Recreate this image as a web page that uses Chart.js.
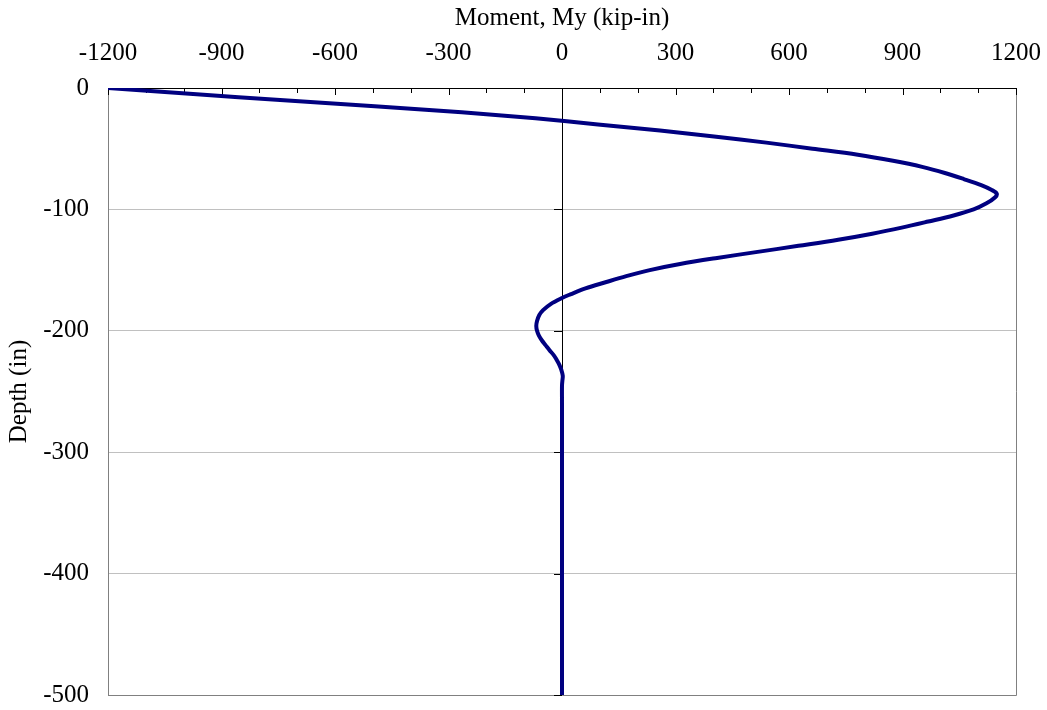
<!DOCTYPE html>
<html lang="en">
<head>
    <meta charset="UTF-8">
    <title>Moment vs Depth</title>
    <script src="https://cdn.jsdelivr.net/npm/chart.js"></script>
    <style>
        html, body { margin: 0; padding: 0; background: #fff; }
        .chart-container { width: 1047px; height: 710px; }
    </style>
</head>
<body>

<div class="chart-container">
    <canvas id="momentChart"></canvas>
</div>

<script>
// depth below pile head (in) and bending moment (kip-in)
const depthIn = [0, -5, -10, -15, -20, -25, -30, -35, -40, -45, -50, -55, -60, -65, -70, -75, -80, -84, -87,
    -90, -95, -100, -105, -110, -115, -120, -125, -130, -135, -140, -145, -150, -155, -160, -165, -170, -173,
    -178, -183, -187, -192, -196, -200, -204, -208, -212, -216, -220, -224, -228, -232, -237, -241, -245,
    -260, -300, -350, -400, -450, -500];
const momentKipIn = [-1200, -975, -735, -495, -265, -70, 95, 259, 402, 540, 662, 782, 875, 952, 1012, 1062, 1108, 1136, 1149,
    1145, 1122, 1088, 1035, 968, 898, 820, 730, 625, 517, 410, 312, 232, 170, 115, 62, 22, 0,
    -30, -50, -60, -66, -68, -66, -61, -53, -43, -33, -22, -14, -7, -2, 2, 1, 0,
    0, 0, 0, 0, 0, 0];

const xTicks = [-1200, -900, -600, -300, 0, 300, 600, 900, 1200];
const yTicks = [0, -100, -200, -300, -400, -500];

const points = depthIn.map((d, i) => ({ x: momentKipIn[i], y: d }));

const serif = { family: "'Liberation Serif', 'Times New Roman', serif", size: 25 };

// inward ticks, zero line and plot frame like the spreadsheet original
const framePlugin = {
    id: 'frame',
    beforeDatasetsDraw(chart) {
        const { ctx, chartArea: a, scales } = chart;
        const x0 = Math.round(scales.x.getPixelForValue(0));
        ctx.save();
        ctx.strokeStyle = '#808080';
        ctx.lineWidth = 1;
        ctx.beginPath();
        ctx.moveTo(Math.round(a.right) + 0.5, a.top);
        ctx.lineTo(Math.round(a.right) + 0.5, Math.round(a.bottom) + 0.5);
        ctx.lineTo(a.left, Math.round(a.bottom) + 0.5);
        ctx.stroke();

        ctx.strokeStyle = '#000';
        ctx.beginPath();
        ctx.moveTo(x0 + 0.5, a.top);
        ctx.lineTo(x0 + 0.5, a.bottom);
        for (let v = -1200; v <= 1200; v += 100) {
            const px = Math.round(scales.x.getPixelForValue(v)) + 0.5;
            ctx.moveTo(px, a.top);
            ctx.lineTo(px, a.top + (v % 300 === 0 ? 7 : 5));
        }
        yTicks.forEach(v => {
            const py = Math.round(scales.y.getPixelForValue(v)) + 0.5;
            ctx.moveTo(x0 - 8, py);
            ctx.lineTo(x0, py);
        });
        ctx.stroke();
        ctx.restore();
    }
};

const ctx = document.getElementById('momentChart').getContext('2d');
new Chart(ctx, {
    type: 'scatter',
    data: {
        datasets: [{
            label: 'Moment',
            data: points,
            showLine: true,
            borderColor: '#000080',
            borderWidth: 4,
            pointRadius: 0,
            tension: 0.35,
            fill: false
        }]
    },
    options: {
        responsive: true,
        maintainAspectRatio: false,
        animation: false,
        layout: { padding: { top: 0, right: 31, bottom: 15, left: 0 } },
        plugins: {
            legend: { display: false },
            tooltip: { enabled: false }
        },
        scales: {
            x: {
                type: 'linear',
                position: 'top',
                min: -1200,
                max: 1200,
                afterBuildTicks: scale => { scale.ticks = xTicks.map(v => ({ value: v })); },
                afterFit: scale => {
                    scale.height = 88;
                    scale.paddingLeft = 0;
                    scale.paddingRight = 0;
                },
                ticks: {
                    color: '#000',
                    font: serif,
                    padding: 20,
                    maxRotation: 0,
                    callback: v => String(v)
                },
                grid: { display: true, drawOnChartArea: false, drawTicks: false },
                border: { display: true, color: '#000', width: 1 },
                title: {
                    display: true,
                    text: 'Moment, My (kip-in)',
                    color: '#000',
                    font: serif,
                    padding: { top: 3, bottom: 4 }
                }
            },
            y: {
                type: 'linear',
                min: -500,
                max: 0,
                afterBuildTicks: scale => { scale.ticks = yTicks.map(v => ({ value: v })); },
                afterFit: scale => {
                    scale.width = 108;
                    scale.paddingTop = 0;
                    scale.paddingBottom = 0;
                },
                ticks: {
                    color: '#000',
                    font: serif,
                    padding: 19,
                    callback: v => String(v)
                },
                grid: { color: '#c0c0c0', lineWidth: 1, drawTicks: false },
                border: { display: true, color: '#808080', width: 1 },
                title: {
                    display: true,
                    text: 'Depth (in)',
                    color: '#000',
                    font: serif,
                    padding: { top: 4, bottom: 9 }
                }
            }
        }
    },
    plugins: [framePlugin]
});
</script>
</body>
</html>
